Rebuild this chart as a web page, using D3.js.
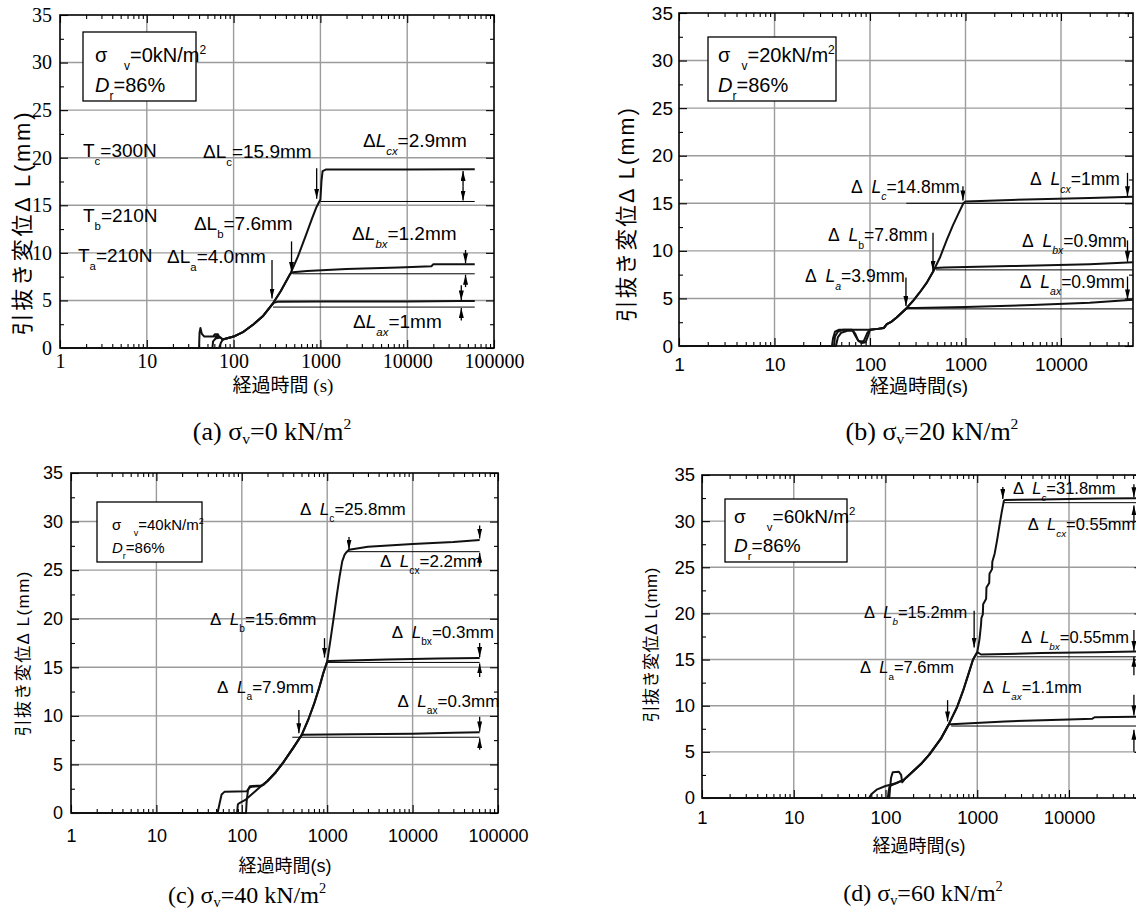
<!DOCTYPE html>
<html lang="ja">
<head>
<meta charset="utf-8">
<title>引抜き変位と経過時間</title>
<script src="https://cdnjs.cloudflare.com/ajax/libs/d3/7.8.5/d3.min.js"></script>
<style>
  html, body { margin: 0; padding: 0; background: #fff; }
  svg { display: block; }
  .axis path.domain { display: none; }
  .axis line { stroke: #000; stroke-width: 1.1; }
</style>
</head>
<body>
<div id="chart"></div>
<script>
// Axis ticks
const xMajor = [1, 10, 100, 1000, 10000, 100000];
const xMinorSteps = [2, 3, 4, 5, 6, 7, 8, 9];
const yMajor = [0, 5, 10, 15, 20, 25, 30, 35];
const yMinor = [2.5, 7.5, 12.5, 17.5, 22.5, 27.5, 32.5];

// (a) sigma_v = 0 : [time s, dL mm]
const a_load = [[75,0.9],[100,1.2],[130,1.7],[170,2.5],[220,3.4],[280,4.6],[350,6.0],[450,7.8],[550,9.6],[690,12.0],[800,13.6],[900,14.8],[1000,15.6]];
const a_startA = [[1,0],[68,0],[71,0.5],[75,0.9]];
const a_startB = [[1,0],[40,0],[40.5,1.6],[41.5,2.1],[43,1.5],[46,1.2],[58,1.2],[61,1.45],[66,1.45],[68,1.2],[64,1.05],[61,1.2],[66,1.3],[72,1.05],[75,0.9]];
const a_startC = [[1,0],[57,0],[58,0.7],[62,1.0],[70,1.1],[75,0.9]];
const a_endA = [[290,4.75],[320,4.85],[1000,4.9],[10000,4.9],[40000,4.95],[60000,4.95]];
const a_endB = [[480,7.95],[520,8.0],[700,8.1],[2000,8.3],[8000,8.45],[19000,8.6],[20000,8.8],[60000,8.8]];
const a_endC = [[1030,17.6],[1060,18.6],[1150,18.75],[10000,18.75],[60000,18.8]];
const a_refs = [[1000,60000,15.4],[480,60000,7.8],[285,60000,4.3]];   // [t0, t1, dL]
const a_arrows = [[906,18.9,15.7],[465,11.2,8.0],[277,9.25,5.2],[44000,17.0,18.6],[44000,17.0,15.5],[47000,10.3,8.9],[47000,6.4,7.7],[42000,6.6,5.0],[42000,2.9,4.2]]; // [t, from, to]
const a_labels = [
  [1.84, 20.1, "T_{c}=300N"], [1.84, 13.2, "T_{b}=210N"], [1.61, 9.0, "T_{a}=210N"],
  [44.4, 20.0, "ΔL_{c}=15.9mm"], [34.9, 12.4, "ΔL_{b}=7.6mm"], [17.1, 8.9, "ΔL_{a}=4.0mm"],
  [3090, 21.1, "Δ*L*_{*cx*}=2.9mm"], [2320, 11.4, "Δ*L*_{*bx*}=1.2mm"], [2380, 2.1, "Δ*L*_{*ax*}=1mm"]
];

// (b) sigma_v = 20
const b_load = [[100,1.7],[120,1.8],[140,1.9],[150,2.3],[165,2.5],[190,3.0],[215,3.5],[240,3.95],[280,4.7],[330,5.6],[390,6.6],[457,7.8],[540,9.3],[640,11.2],[740,12.7],[850,14.0],[950,15.0]];
const b_startA = [[1,0],[40,0],[41,0.8],[43,1.5],[47,1.7],[65,1.7],[70,1.3],[75,0.6],[82,0.3],[90,0.4],[95,1.0],[100,1.7]];
const b_startB = [[1,0],[42,0],[43,1.0],[46,1.5],[52,1.7],[100,1.7]];
const b_startC = [[1,0],[44,0],[46,0.9],[50,1.4],[58,1.6],[66,1.6],[70,1.1],[76,0.5],[86,0.5],[94,1.4],[100,1.7]];
const b_endA = [[250,4.0],[300,4.0],[1000,4.1],[5000,4.3],[20000,4.55],[56750,4.85]];
const b_endB = [[480,8.2],[600,8.25],[3000,8.4],[20000,8.6],[56750,8.8]];
const b_endC = [[1000,15.2],[3000,15.35],[20000,15.55],[56750,15.7]];
const b_refs = [[240,56750,3.9],[490,56750,8.0],[240,56750,15.0]];
const b_arrows = [[940,16.8,15.3],[457,11.9,7.9],[238,7.2,4.2],[49700,18.2,15.75],[49700,11.1,8.85],[49700,7.3,4.9]];
const b_labels = [
  [63.2, 16.1, "Δ  *L*_{*c*}=14.8mm"], [36.3, 11.0, "Δ  *L*_{b}=7.8mm"], [20.9, 6.7, "Δ  *L*_{*a*}=3.9mm"],
  [4750, 16.9, "Δ  *L*_{*cx*}=1mm"], [3900, 10.4, "Δ  *L*_{*bx*}=0.9mm"], [3710, 6.1, "Δ  *L*_{*ax*}=0.9mm"]
];

// (c) sigma_v = 40
const c_load = [[130,1.9],[160,2.6],[200,3.3],[250,4.2],[300,5.1],[400,6.7],[500,8.0],[600,9.6],[700,11.2],[800,12.8],[900,14.4],[1000,15.6],[1100,18.0],[1200,20.3],[1300,22.5],[1400,24.4],[1500,25.9],[1600,26.6],[1700,26.9]];
const c_startA = [[1,0],[52,0],[55,1.0],[58,1.9],[63,2.2],[115,2.25],[122,2.6],[130,2.7],[160,2.75],[180,2.9],[200,3.3]];
const c_startB = [[1,0],[88,0],[90,0.9],[95,1.05],[110,1.35],[130,1.9]];
const c_startC = [[1,0],[112,0],[114,1.2],[118,2.3],[124,2.75],[150,2.8],[170,2.8],[200,3.3]];
const c_endA = [[520,8.05],[2000,8.1],[10000,8.15],[30000,8.25],[61000,8.3]];
const c_endB = [[1050,15.65],[5000,15.8],[20000,15.9],[61000,15.95]];
const c_endC = [[1800,27.1],[3000,27.4],[10000,27.7],[30000,27.9],[61000,28.1]];
const c_refs = [[390,61000,7.8],[1000,61000,15.5],[1700,61000,26.9]];
const c_arrows = [[1800,28.4,27.1],[930,18.0,16.0],[466,10.6,8.2],[61000,29.6,28.25],[61000,25.5,26.8],[61000,17.5,16.05],[61000,14.0,15.4],[61000,9.9,8.4],[61000,6.5,7.7]];
const c_labels = [
  [480, 30.7, "Δ  *L*_{c}=25.8mm"], [4150, 25.3, "Δ  *L*_{cx}=2.2mm"], [42.4, 19.4, "Δ  *L*_{b}=15.6mm"],
  [5710, 18.0, "Δ  *L*_{bx}=0.3mm"], [51.4, 12.35, "Δ  *L*_{a}=7.9mm"], [6640, 10.9, "Δ  *L*_{ax}=0.3mm"]
];

// (d) sigma_v = 60
const d_load = [[100,1.3],[130,1.6],[160,2.0],[200,2.9],[250,3.8],[300,4.7],[400,6.4],[490,8.0],[600,9.8],[700,11.6],[800,13.4],[900,15.0],[1000,15.8],[1050,17.0],[1060,17.3],[1100,18.8],[1110,19.5],[1150,19.9],[1160,21.0],[1250,21.6],[1260,22.8],[1350,23.3],[1360,24.3],[1450,24.8],[1460,25.6],[1550,26.5],[1650,28.0],[1750,29.6],[1850,31.0],[1950,32.2]];
const d_startA = [[1,0],[66,0],[70,0.4],[80,0.9],[100,1.3]];
const d_startB = [[1,0],[110,0],[112,1.0],[115,2.2],[120,2.8],[140,2.85],[148,2.5],[152,1.7],[160,2.0]];
const d_startC = [[1,0],[106,0],[108,0.7],[111,1.3],[130,1.6]];
const d_endA = [[520,8.0],[2000,8.3],[10000,8.5],[18000,8.6],[19000,8.75],[63100,8.8]];
const d_endB = [[1100,15.55],[5000,15.7],[20000,15.8],[63100,15.9]];
const d_endC = [[2000,32.3],[5000,32.35],[20000,32.45],[63100,32.5]];
const d_refs = [[520,63100,7.8],[1000,63100,15.3],[1950,63100,32.0]];
const d_arrows = [[1900,33.7,32.4],[925,20.3,16.3],[475,10.6,8.3],[51000,34.0,32.6],[51000,29.8,31.7],[51000,18.2,15.95],[51000,13.3,15.3],[51000,11.2,8.95],[51000,5.0,7.4]];
const d_labels = [
  [2450, 32.9, "Δ  *L*_{*c*}=31.8mm"], [3550, 29.0, "Δ  *L*_{*cx*}=0.55mm"], [58.3, 19.5, "Δ  *L*_{*b*}=15.2mm"],
  [2990, 16.8, "Δ  *L*_{*bx*}=0.55mm"], [52.7, 13.5, "Δ  *L*_{a}=7.6mm"], [1150, 11.4, "Δ  *L*_{*ax*}=1.1mm"]
];

const yTitle = "引抜き変位Δ L(mm)";
const SANS = "'Liberation Sans', Arial, 'Noto Sans CJK JP', sans-serif";
const SERIF = "'Liberation Serif', 'Times New Roman', 'Noto Sans CJK JP', serif";
const GRID = "#9c9c9c";

// Panel layout
const panels = [
  { x0: 60, x1: 494, y0: 348, y1: 15, tMax: 100000, tickFont: SERIF, tickSize: 20, xPad: 6, yPad: 8, annSize: 19,
    load: a_load, curves: [[a_startA, 280, a_endA], [a_startB, 450, a_endB], [a_startC, 1000, a_endC]],
    refs: a_refs, arrows: a_arrows, labels: a_labels,
    legend: { x: 83, y: 32, w: 113, h: 69, fs: 20, tx: 12, l1: 30, l2: 60, lines: ["σ   _{v}=0kN/m^{2}", "*D*_{r}=86%"] },
    yT: { x: 22, y: 224, len: 223, fs: 22 }, xT: { x: 283, y: 392, fs: 19, font: SERIF, text: "経過時間 (s)" },
    cap: { x: 272, y: 440, fs: 26, text: "(a) σ_{v}=0 kN/m^{2}" } },
  { x0: 679, x1: 1133, y0: 346, y1: 13, tMax: 56750, tickFont: SANS, tickSize: 19, xPad: 12, yPad: 6, annSize: 17.5,
    load: b_load, curves: [[b_startA, 240, b_endA], [b_startB, 457, b_endB], [b_startC, 950, b_endC]],
    refs: b_refs, arrows: b_arrows, labels: b_labels,
    legend: { x: 708, y: 37, w: 128, h: 64, fs: 20, tx: 10, l1: 25, l2: 55, lines: ["σ  _{v}=20kN/m^{2}", "*D*_{r}=86%"] },
    yT: { x: 626, y: 215, len: 214, fs: 21.5 }, xT: { x: 919, y: 393, fs: 19, font: SANS, text: "経過時間(s)" },
    cap: { x: 932, y: 440, fs: 26, text: "(b) σ_{v}=20 kN/m^{2}" } },
  { x0: 71, x1: 498, y0: 813, y1: 473, tMax: 100000, tickFont: SANS, tickSize: 18, xPad: 16, yPad: 8, annSize: 17,
    load: c_load, curves: [[c_startA, 500, c_endA], [c_startB, 1000, c_endB], [c_startC, 1700, c_endC]],
    refs: c_refs, arrows: c_arrows, labels: c_labels,
    legend: { x: 97, y: 502, w: 105, h: 60, fs: 15, tx: 15, l1: 28, l2: 51, lines: ["σ   _{v}=40kN/m^{2}", "*D*_{r}=86%"] },
    yT: { x: 23, y: 654, len: 165, fs: 17 }, xT: { x: 285, y: 872, fs: 18, font: SANS, text: "経過時間(s)" },
    cap: { x: 247, y: 903, fs: 24, text: "(c) σ_{v}=40 kN/m^{2}" } },
  { x0: 702, x1: 1142.4, y0: 798, y1: 475, tMax: 63100, tickFont: SANS, tickSize: 18.5, xPad: 13, yPad: 7, annSize: 16.5,
    load: d_load, curves: [[d_startA, 490, d_endA], [d_startB, 1000, d_endB], [d_startC, 1950, d_endC]],
    refs: d_refs, arrows: d_arrows, labels: d_labels,
    legend: { x: 725, y: 499, w: 122, h: 63, fs: 19, tx: 9, l1: 24, l2: 53, lines: ["σ    _{v}=60kN/m^{2}", "*D*_{r}=86%"] },
    yT: { x: 651, y: 645, len: 155, fs: 17 }, xT: { x: 919, y: 852, fs: 18, font: SANS, text: "経過時間(s)" },
    cap: { x: 923, y: 901, fs: 24, text: "(d) σ_{v}=60 kN/m^{2}" } }
];

// Draw canvas
const svg = d3.select("#chart").append("svg")
  .attr("width", 1136)
  .attr("height", 913);

svg.append("defs").append("marker")
  .attr("id", "head")
  .attr("viewBox", "0 0 10 10")
  .attr("refX", 10).attr("refY", 5)
  .attr("markerUnits", "userSpaceOnUse")
  .attr("markerWidth", 10).attr("markerHeight", 5)
  .attr("preserveAspectRatio", "none")
  .attr("orient", "auto")
  .append("path").attr("d", "M0,0L10,5L0,10Z").attr("fill", "#000");

// Small markup: _{sub} ^{sup} *italic*
function rich(text, str, fs, subShift = 0.42) {
  const parts = str.split(/(_\{[^}]*\}|\^\{[^}]*\}|\*[^*]*\*)/).filter(s => s !== "");
  let shift = 0;
  parts.forEach(p => {
    let kind = "n", body = p;
    if (p.startsWith("_{")) { kind = "sub"; body = p.slice(2, -1); }
    else if (p.startsWith("^{")) { kind = "sup"; body = p.slice(2, -1); }
    let italic = false;
    if (body.length > 2 && body.startsWith("*") && body.endsWith("*")) { italic = true; body = body.slice(1, -1); }
    const target = kind === "sub" ? fs * subShift : kind === "sup" ? -fs * 0.42 : 0;
    const ts = text.append("tspan").attr("dy", target - shift).text(body);
    shift = target;
    if (kind !== "n") ts.attr("font-size", fs * 0.6);
    if (italic) ts.attr("font-style", "italic");
  });
  return text;
}

function drawPanel(p) {
  const x = d3.scaleLog().domain([1, p.tMax]).range([p.x0, p.x1]);
  const y = d3.scaleLinear().domain([0, 35]).range([p.y0, p.y1]);
  const g = svg.append("g");

  const majors = xMajor.filter(t => t <= p.tMax);
  const minors = xMajor.flatMap(d => xMinorSteps.map(k => k * d)).filter(t => t < p.tMax);

  // Grid
  g.append("g").selectAll("line")
    .data(majors.filter(t => t > 1 && t < p.tMax))
    .join("line")
    .attr("x1", d => x(d)).attr("x2", d => x(d))
    .attr("y1", p.y0).attr("y2", p.y1)
    .attr("stroke", GRID).attr("stroke-width", 1.4);
  g.append("g").selectAll("line")
    .data(yMajor.filter(v => v > 0 && v < 35))
    .join("line")
    .attr("x1", p.x0).attr("x2", p.x1)
    .attr("y1", d => y(d)).attr("y2", d => y(d))
    .attr("stroke", GRID).attr("stroke-width", 1.4);

  // Axes (ticks point inward)
  const bottom = g.append("g").attr("class", "axis")
    .attr("transform", `translate(0,${p.y0})`)
    .call(d3.axisBottom(x).tickValues(majors).tickFormat(d3.format("d"))
      .tickSizeInner(-8).tickSizeOuter(0).tickPadding(p.xPad));
  bottom.selectAll("text").attr("font-family", p.tickFont).attr("font-size", p.tickSize).attr("fill", "#000");
  g.append("g").attr("class", "axis").attr("transform", `translate(0,${p.y0})`)
    .call(d3.axisBottom(x).tickValues(minors).tickFormat("").tickSizeInner(-4).tickSizeOuter(0));
  g.append("g").attr("class", "axis").attr("transform", `translate(0,${p.y1})`)
    .call(d3.axisTop(x).tickValues(majors).tickFormat("").tickSizeInner(-8).tickSizeOuter(0));
  g.append("g").attr("class", "axis").attr("transform", `translate(0,${p.y1})`)
    .call(d3.axisTop(x).tickValues(minors).tickFormat("").tickSizeInner(-4).tickSizeOuter(0));

  const left = g.append("g").attr("class", "axis")
    .attr("transform", `translate(${p.x0},0)`)
    .call(d3.axisLeft(y).tickValues(yMajor).tickFormat(d3.format("d"))
      .tickSizeInner(-8).tickSizeOuter(0).tickPadding(p.yPad));
  left.selectAll("text").attr("font-family", p.tickFont).attr("font-size", p.tickSize).attr("fill", "#000");
  g.append("g").attr("class", "axis").attr("transform", `translate(${p.x0},0)`)
    .call(d3.axisLeft(y).tickValues(yMinor).tickFormat("").tickSizeInner(-4).tickSizeOuter(0));
  g.append("g").attr("class", "axis").attr("transform", `translate(${p.x1},0)`)
    .call(d3.axisRight(y).tickValues(yMajor).tickFormat("").tickSizeInner(-8).tickSizeOuter(0));
  g.append("g").attr("class", "axis").attr("transform", `translate(${p.x1},0)`)
    .call(d3.axisRight(y).tickValues(yMinor).tickFormat("").tickSizeInner(-4).tickSizeOuter(0));

  g.append("rect")
    .attr("x", p.x0).attr("y", p.y1)
    .attr("width", p.x1 - p.x0).attr("height", p.y0 - p.y1)
    .attr("fill", "none").attr("stroke", "#000").attr("stroke-width", 1.6);

  // Reference lines (end of loading)
  g.append("g").selectAll("line")
    .data(p.refs)
    .join("line")
    .attr("x1", d => x(d[0])).attr("x2", d => x(d[1]))
    .attr("y1", d => y(d[2])).attr("y2", d => y(d[2]))
    .attr("stroke", "#000").attr("stroke-width", 1);

  // Measured curves
  const line = d3.line().x(d => x(d[0])).y(d => y(d[1]));
  const series = p.curves.map(([start, upTo, end]) => {
    const t0 = start[start.length - 1][0];
    return [...start, ...p.load.filter(d => d[0] > t0 && d[0] <= upTo), ...end];
  });
  g.append("g").selectAll("path")
    .data(series)
    .join("path")
    .attr("d", line)
    .attr("fill", "none").attr("stroke", "#111")
    .attr("stroke-width", 2).attr("stroke-linejoin", "round");

  // Arrows
  g.append("g").selectAll("line")
    .data(p.arrows)
    .join("line")
    .attr("x1", d => x(d[0])).attr("x2", d => x(d[0]))
    .attr("y1", d => y(d[1])).attr("y2", d => y(d[2]))
    .attr("stroke", "#000").attr("stroke-width", 1.3)
    .attr("marker-end", "url(#head)");

  // Annotations
  p.labels.forEach(([t, v, s]) => {
    const txt = g.append("text")
      .attr("x", x(t)).attr("y", y(v))
      .attr("font-family", SANS).attr("font-size", p.annSize)
      .style("white-space", "pre");
    rich(txt, s, p.annSize);
  });

  // Legend box
  const L = p.legend;
  g.append("rect")
    .attr("x", L.x).attr("y", L.y).attr("width", L.w).attr("height", L.h)
    .attr("fill", "#fff").attr("stroke", "#000").attr("stroke-width", 1.3);
  [L.l1, L.l2].forEach((off, i) => {
    const txt = g.append("text")
      .attr("x", L.x + L.tx).attr("y", L.y + off)
      .attr("font-family", SANS).attr("font-size", L.fs)
      .style("white-space", "pre");
    rich(txt, L.lines[i], L.fs);
  });

  // Axis titles
  g.append("text")
    .attr("transform", `translate(${p.yT.x},${p.yT.y}) rotate(-90)`)
    .attr("text-anchor", "middle").attr("dy", "0.35em")
    .attr("font-family", SANS).attr("font-size", p.yT.fs)
    .attr("textLength", p.yT.len).attr("lengthAdjust", "spacing")
    .text(yTitle);
  g.append("text")
    .attr("x", p.xT.x).attr("y", p.xT.y)
    .attr("text-anchor", "middle")
    .attr("font-family", p.xT.font).attr("font-size", p.xT.fs)
    .style("white-space", "pre")
    .text(p.xT.text);

  // Caption
  const cap = g.append("text")
    .attr("x", p.cap.x).attr("y", p.cap.y)
    .attr("text-anchor", "middle")
    .attr("font-family", SERIF).attr("font-size", p.cap.fs);
  rich(cap, p.cap.text, p.cap.fs, 0.15);
}

panels.forEach(drawPanel);
</script>
</body>
</html>
